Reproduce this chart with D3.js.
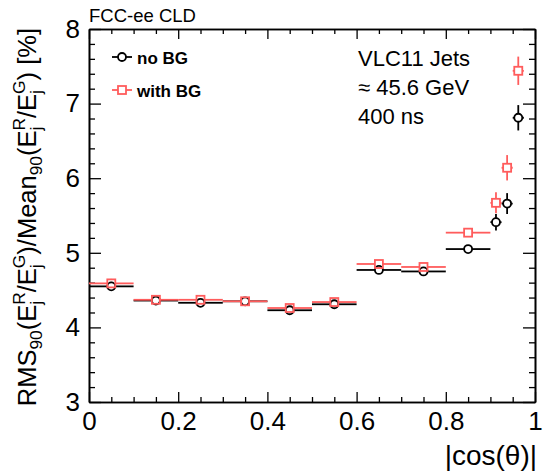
<!DOCTYPE html>
<html><head><meta charset="utf-8">
<script src="https://cdn.jsdelivr.net/npm/d3@7"></script>
<style>body{margin:0;background:#fff}svg{display:block}text{font-family:"Liberation Sans",Arial,Helvetica,sans-serif}</style>
</head><body>
<script>
// ---- data ----
const binLo = [0.0, 0.1, 0.2, 0.3, 0.4, 0.5, 0.6, 0.7, 0.8, 0.9, 0.925, 0.95];
const binHi = [0.1, 0.2, 0.3, 0.4, 0.5, 0.6, 0.7, 0.8, 0.9, 0.925, 0.95, 0.975];
const noBG      = [4.55, 4.36, 4.33, 4.35, 4.23, 4.31, 4.77, 4.75, 5.05, 5.41, 5.66, 6.81];
const noBGErr   = [0.06, 0.04, 0.05, 0.04, 0.04, 0.04, 0.04, 0.04, 0.04, 0.11, 0.14, 0.17];
const withBG    = [4.59, 4.37, 4.37, 4.35, 4.26, 4.34, 4.85, 4.81, 5.27, 5.67, 6.14, 7.44];
const withBGErr = [0.06, 0.04, 0.05, 0.04, 0.04, 0.04, 0.04, 0.04, 0.04, 0.14, 0.17, 0.19];
const xTicks = [0, 0.2, 0.4, 0.6, 0.8, 1];
const yTicks = [3, 4, 5, 6, 7, 8];
const seriesNames = ["no BG", "with BG"];
const infoLines = ["VLC11 Jets", "\u2248 45.6 GeV", "400 ns"];

const W = 543, H = 474;
const svg = d3.select("body").append("svg").attr("width", W).attr("height", H);
const x = d3.scaleLinear().domain([0, 1]).range([89, 535]);
const y = d3.scaleLinear().domain([3, 8]).range([402, 29]);
const RED = "#ff5c5c";

// frame & axes
const xMinor = d3.range(0, 1.0001, 0.05).map(v => +v.toFixed(2)).filter(v => !xTicks.includes(v));
const yMinor = d3.range(3, 8.0001, 0.2).map(v => +v.toFixed(1)).filter(v => !yTicks.includes(v));
const axG = svg.append("g");
function styleAxis(g){ g.select(".domain").attr("stroke","#000").attr("stroke-width",1.6); g.selectAll(".tick line").attr("stroke","#000").attr("stroke-width",1.3); }
axG.append("g").attr("transform",`translate(0,${y(3)})`)
  .call(d3.axisBottom(x).tickValues(xTicks).tickSizeInner(-10).tickSizeOuter(0).tickPadding(10).tickFormat(d3.format("")))
  .call(styleAxis).call(g=>g.selectAll("text").attr("font-size",26).attr("fill","#000").attr("font-family",null));
axG.append("g").attr("transform",`translate(0,${y(3)})`)
  .call(d3.axisBottom(x).tickValues(xMinor).tickSizeInner(-5).tickSizeOuter(0).tickFormat(""))
  .call(styleAxis);
axG.append("g").attr("transform",`translate(0,${y(8)})`)
  .call(d3.axisTop(x).tickValues(xTicks).tickSizeInner(-10).tickSizeOuter(0).tickFormat(""))
  .call(styleAxis);
axG.append("g").attr("transform",`translate(0,${y(8)})`)
  .call(d3.axisTop(x).tickValues(xMinor).tickSizeInner(-5).tickSizeOuter(0).tickFormat(""))
  .call(styleAxis);
axG.append("g").attr("transform",`translate(${x(0)},0)`)
  .call(d3.axisLeft(y).tickValues(yTicks).tickSizeInner(-12).tickSizeOuter(0).tickPadding(9).tickFormat(d3.format("d")))
  .call(styleAxis).call(g=>g.selectAll("text").attr("font-size",26).attr("fill","#000").attr("font-family",null));
axG.append("g").attr("transform",`translate(${x(0)},0)`)
  .call(d3.axisLeft(y).tickValues(yMinor).tickSizeInner(-6).tickSizeOuter(0).tickFormat(""))
  .call(styleAxis);
axG.append("g").attr("transform",`translate(${x(1)},0)`)
  .call(d3.axisRight(y).tickValues(yTicks).tickSizeInner(-12).tickSizeOuter(0).tickFormat(""))
  .call(styleAxis);
axG.append("g").attr("transform",`translate(${x(1)},0)`)
  .call(d3.axisRight(y).tickValues(yMinor).tickSizeInner(-6).tickSizeOuter(0).tickFormat(""))
  .call(styleAxis);

// data markers with error bars (ROOT style: bars stop at marker edge)
function drawSeries(vals, errs, color, shape){
  const g = svg.append("g").attr("stroke", color).attr("stroke-width", 1.8).attr("fill","none");
  const r = 4;
  vals.forEach((v,i)=>{
    const cx = x((binLo[i]+binHi[i])/2), cy = y(v);
    const xl = x(binLo[i]), xh = x(binHi[i]);
    const yl = y(v - errs[i]), yh = y(v + errs[i]);
    if (cx - r > xl) g.append("line").attr("x1", xl).attr("x2", cx - r).attr("y1", cy).attr("y2", cy);
    if (xh > cx + r) g.append("line").attr("x1", cx + r).attr("x2", xh).attr("y1", cy).attr("y2", cy);
    if (yh < cy - r) g.append("line").attr("x1", cx).attr("x2", cx).attr("y1", yh).attr("y2", cy - r);
    if (yl > cy + r) g.append("line").attr("x1", cx).attr("x2", cx).attr("y1", cy + r).attr("y2", yl);
    if (shape === "circle") g.append("circle").attr("cx", cx).attr("cy", cy).attr("r", r);
    else g.append("rect").attr("x", cx - r).attr("y", cy - r).attr("width", 2*r).attr("height", 2*r);
  });
}
drawSeries(noBG, noBGErr, "#000", "circle");
drawSeries(withBG, withBGErr, RED, "square");

// legend
const leg = [{name: seriesNames[0], color: "#000", shape: "circle", y: 57}, {name: seriesNames[1], color: RED, shape: "square", y: 90}];
leg.forEach(l=>{
  const g = svg.append("g").attr("stroke", l.color).attr("stroke-width", 1.8).attr("fill","none");
  g.append("line").attr("x1",112).attr("x2",118).attr("y1",l.y).attr("y2",l.y);
  g.append("line").attr("x1",126).attr("x2",132).attr("y1",l.y).attr("y2",l.y);
  if (l.shape==="circle") g.append("circle").attr("cx",122).attr("cy",l.y).attr("r",4);
  else g.append("rect").attr("x",118).attr("y",l.y-4).attr("width",8).attr("height",8);
  svg.append("text").attr("x",137).attr("y",l.y+7).attr("font-size",17).attr("font-weight","bold").text(l.name);
});

// info text
svg.append("text").attr("x",89).attr("y",22).attr("font-size",18.5).text("FCC-ee CLD");
infoLines.forEach((t,i)=>svg.append("text").attr("x",358).attr("y",66+i*29).attr("font-size",22).text(t));

// x title
svg.append("text").attr("x",537).attr("y",465).attr("text-anchor","end").attr("font-size",28).text("|cos(\u03b8)|");

// y title (rich text, rotated)
function richText(g, parts, size){
  let cx = 0, prevStart = 0, prevW = 0;
  parts.forEach(p=>{
    const fs = p.s === "n" ? size : size*0.68;
    const dy = p.s === "sup" ? -0.42*size : (p.s === "sub" ? 0.24*size : 0);
    let startX = p.stack ? prevStart : cx;
    const t = g.append("text").attr("x", startX).attr("y", dy).attr("font-size", fs).text(p.t);
    const w = t.node().getComputedTextLength();
    if (p.stack){ cx = prevStart + Math.max(prevW, w); }
    else { cx = startX + w; prevStart = startX; prevW = w; }
  });
  return cx;
}
const yTitleParts = [
  {t:"RMS",s:"n"},{t:"90",s:"sub"},{t:"(E",s:"n"},{t:"R",s:"sup"},{t:"j",s:"sub",stack:true},
  {t:"/E",s:"n"},{t:"G",s:"sup"},{t:"j",s:"sub",stack:true},{t:")/Mean",s:"n"},{t:"90",s:"sub"},
  {t:"(E",s:"n"},{t:"R",s:"sup"},{t:"j",s:"sub",stack:true},{t:"/E",s:"n"},{t:"G",s:"sup"},
  {t:"j",s:"sub",stack:true},{t:") [%]",s:"n"}
];
const yt = svg.append("g");
const tw = richText(yt, yTitleParts, 25.5);
yt.attr("transform", `translate(36,${28 + tw}) rotate(-90)`);
</script>
</body></html>
